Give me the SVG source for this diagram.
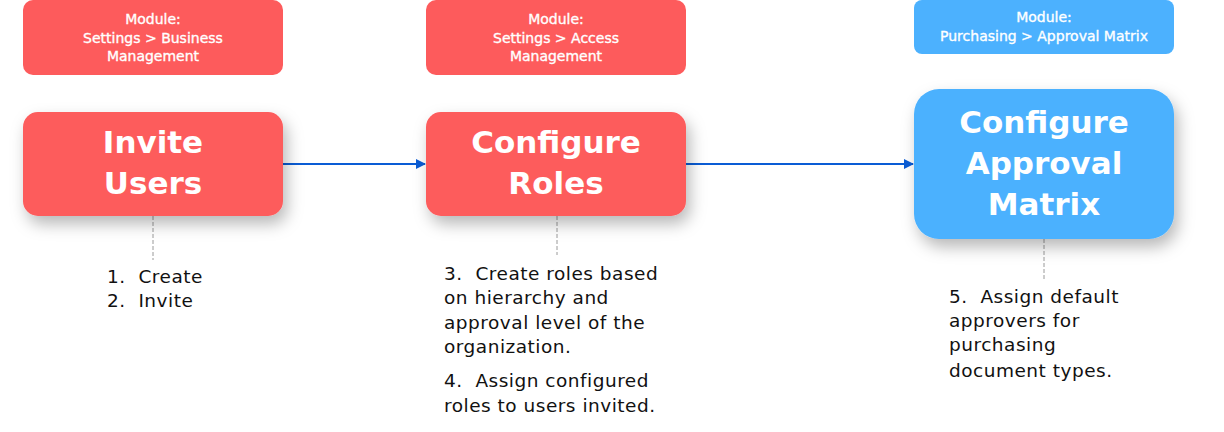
<svg xmlns="http://www.w3.org/2000/svg" width="1224" height="432" viewBox="0 0 1224 432">
<defs>
<style>
.red{fill:#FD5B5C}
.blue{fill:#4CB1FE}
.mod{font-family:"DejaVu Sans","Open Sans",sans-serif;font-size:14px;fill:#fff;stroke:#fff;stroke-width:0.35px;text-anchor:middle}
.big{font-family:"DejaVu Sans","Open Sans",sans-serif;font-size:31px;font-weight:700;fill:#fff;text-anchor:middle}
.note{font-family:"DejaVu Sans","Open Sans",sans-serif;font-size:18.5px;fill:#111;letter-spacing:0.5px;white-space:pre}
.dash{stroke:#9a9a9a;stroke-width:1;stroke-dasharray:4 2;fill:none}
.arrow{stroke:#0A5CD5;stroke-width:2;fill:none}
</style>
<filter id="sh" x="-20%" y="-20%" width="150%" height="170%">
<feDropShadow dx="4" dy="8" stdDeviation="8" flood-color="#000" flood-opacity="0.28"/>
</filter>
<marker id="ah" markerWidth="10" markerHeight="10" refX="9" refY="5" orient="auto" markerUnits="userSpaceOnUse">
<path d="M0,0 L10,5 L0,10 Z" fill="#0A5CD5"/>
</marker>
</defs>
<rect width="1224" height="432" fill="#fff"/>
<g id="connectors">
<line class="arrow" x1="283" y1="164" x2="425" y2="164" marker-end="url(#ah)"/>
<line class="arrow" x1="686" y1="164" x2="913" y2="164" marker-end="url(#ah)"/>
<line class="dash" x1="153" y1="216" x2="153" y2="260"/>
<line class="dash" x1="557" y1="216" x2="557" y2="255"/>
<line class="dash" x1="1044" y1="239" x2="1044" y2="280"/>
</g>
<g id="module1">
<rect class="red" x="23" y="0" width="260" height="75" rx="10"/>
<text class="mod" x="153" y="24">Module:</text>
<text class="mod" x="153" y="43">Settings &gt; Business</text>
<text class="mod" x="153" y="61">Management</text>
</g>
<g id="module2">
<rect class="red" x="426" y="0" width="260" height="75" rx="10"/>
<text class="mod" x="556" y="24">Module:</text>
<text class="mod" x="556" y="43">Settings &gt; Access</text>
<text class="mod" x="556" y="61">Management</text>
</g>
<g id="module3">
<rect class="blue" x="914" y="0" width="260" height="54" rx="8"/>
<text class="mod" x="1044" y="22">Module:</text>
<text class="mod" x="1044" y="41">Purchasing &gt; Approval Matrix</text>
</g>
<g id="invite">
<rect class="red" x="23" y="112" width="260" height="104" rx="15" filter="url(#sh)"/>
<text class="big" x="153" y="153">Invite</text>
<text class="big" x="153" y="194">Users</text>
</g>
<g id="roles">
<rect class="red" x="426" y="112" width="260" height="104" rx="15" filter="url(#sh)"/>
<text class="big" x="556" y="153">Configure</text>
<text class="big" x="556" y="194">Roles</text>
</g>
<g id="matrix">
<rect class="blue" x="914" y="89" width="260" height="150" rx="25" filter="url(#sh)"/>
<text class="big" x="1044" y="133">Configure</text>
<text class="big" x="1044" y="174">Approval</text>
<text class="big" x="1044" y="215">Matrix</text>
</g>
<g id="notes1" xml:space="preserve">
<text class="note" x="107" y="283">1.  Create</text>
<text class="note" x="107" y="307">2.  Invite</text>
</g>
<g id="notes2" xml:space="preserve">
<text class="note" x="444" y="280">3.  Create roles based</text>
<text class="note" x="444" y="304">on hierarchy and</text>
<text class="note" x="444" y="329">approval level of the</text>
<text class="note" x="444" y="353">organization.</text>
<text class="note" x="444" y="387">4.  Assign configured</text>
<text class="note" x="444" y="412">roles to users invited.</text>
</g>
<g id="notes3" xml:space="preserve">
<text class="note" x="949" y="303">5.  Assign default</text>
<text class="note" x="949" y="327">approvers for</text>
<text class="note" x="949" y="351">purchasing</text>
<text class="note" x="949" y="377">document types.</text>
</g>
</svg>
